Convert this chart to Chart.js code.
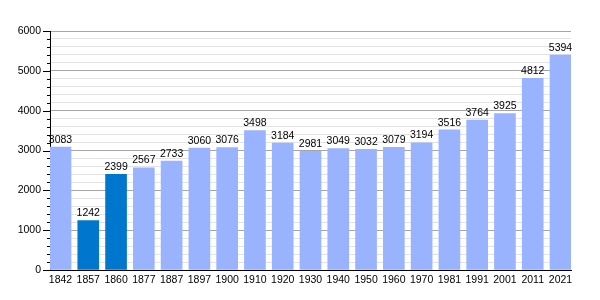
<!DOCTYPE html>
<html>
<head>
<meta charset="utf-8">
<script src="https://cdn.jsdelivr.net/npm/chart.js@4/dist/chart.umd.min.js"></script>
<style>
  html, body { margin: 0; padding: 0; background: #fff; }
  #wrap { width: 600px; height: 300px; }
</style>
</head>
<body>
<div id="wrap"><canvas id="pop-chart"></canvas></div>
<script>
// Population par année de recensement
const years = ['1842', '1857', '1860', '1877', '1887', '1897', '1900', '1910', '1920', '1930',
               '1940', '1950', '1960', '1970', '1981', '1991', '2001', '2011', '2021'];
const population = [3083, 1242, 2399, 2567, 2733, 3060, 3076, 3498, 3184, 2981,
                    3049, 3032, 3079, 3194, 3516, 3764, 3925, 4812, 5394];
const darkYears = ['1857', '1860'];
const yMax = 6000;
const yMajorStep = 1000;
const yMinorStep = 200;

const LIGHT = '#99b3ff';
const DARK = '#0077cc';
const FONT = { family: 'Liberation Sans, Arial, sans-serif', size: 10.5 };

// petites graduations sur l'axe Y (longues tous les 1000, courtes tous les 200)
const yTickMarks = {
    id: 'yTickMarks',
    afterDraw(chart) {
        const y = chart.scales.y;
        const ctx = chart.ctx;
        ctx.save();
        ctx.strokeStyle = '#000';
        ctx.lineWidth = 1;
        for (let v = 0; v <= yMax; v += yMinorStep) {
            const py = Math.round(y.getPixelForValue(v)) + 0.5;
            const len = v % yMajorStep === 0 ? 7 : 3;
            ctx.beginPath();
            ctx.moveTo(y.right - len, py);
            ctx.lineTo(y.right, py);
            ctx.stroke();
        }
        ctx.restore();
    }
};

// valeurs au-dessus des barres
const barValues = {
    id: 'barValues',
    afterDatasetsDraw(chart) {
        const ctx = chart.ctx;
        const meta = chart.getDatasetMeta(0);
        ctx.save();
        ctx.fillStyle = '#000';
        ctx.font = `${FONT.size}px ${FONT.family}`;
        ctx.textAlign = 'center';
        ctx.textBaseline = 'bottom';
        meta.data.forEach((bar, i) => {
            ctx.fillText(String(population[i]), bar.x, bar.y - 2);
        });
        ctx.restore();
    }
};

new Chart(document.getElementById('pop-chart'), {
    type: 'bar',
    data: {
        datasets: [{
            data: population.map((v, i) => ({ x: i, y: v })),
            backgroundColor: years.map(y => darkYears.includes(y) ? DARK : LIGHT),
            barThickness: 21,
            borderWidth: 0
        }]
    },
    options: {
        responsive: true,
        maintainAspectRatio: false,
        animation: false,
        layout: { padding: { top: 31, right: 29, bottom: 0, left: 0 } },
        plugins: {
            legend: { display: false },
            tooltip: { enabled: false }
        },
        scales: {
            x: {
                type: 'linear',
                offset: false,
                min: -0.378,
                max: years.length - 1 + 0.378,
                afterBuildTicks(scale) {
                    scale.ticks = years.map((_, i) => ({ value: i }));
                },
                afterFit(scale) { scale.height = 30; },
                grid: { display: false, offset: false, drawTicks: false },
                border: { color: '#000', width: 1 },
                ticks: {
                    color: '#000',
                    font: FONT,
                    padding: 4,
                    maxRotation: 0,
                    autoSkip: false,
                    callback(val) { return years[val]; }
                }
            },
            y: {
                min: 0,
                max: yMax,
                afterFit(scale) { scale.width = 50; },
                border: { color: '#000', width: 1 },
                grid: {
                    drawTicks: false,
                    color(ctx) {
                        return ctx.tick.value % yMajorStep === 0 ? '#a6a6a6' : '#e3e3e3';
                    }
                },
                ticks: {
                    stepSize: yMinorStep,
                    autoSkip: false,
                    color: '#000',
                    font: FONT,
                    padding: 9,
                    callback(val) { return val % yMajorStep === 0 ? val : ''; }
                }
            }
        }
    },
    plugins: [yTickMarks, barValues]
});
</script>
</body>
</html>
